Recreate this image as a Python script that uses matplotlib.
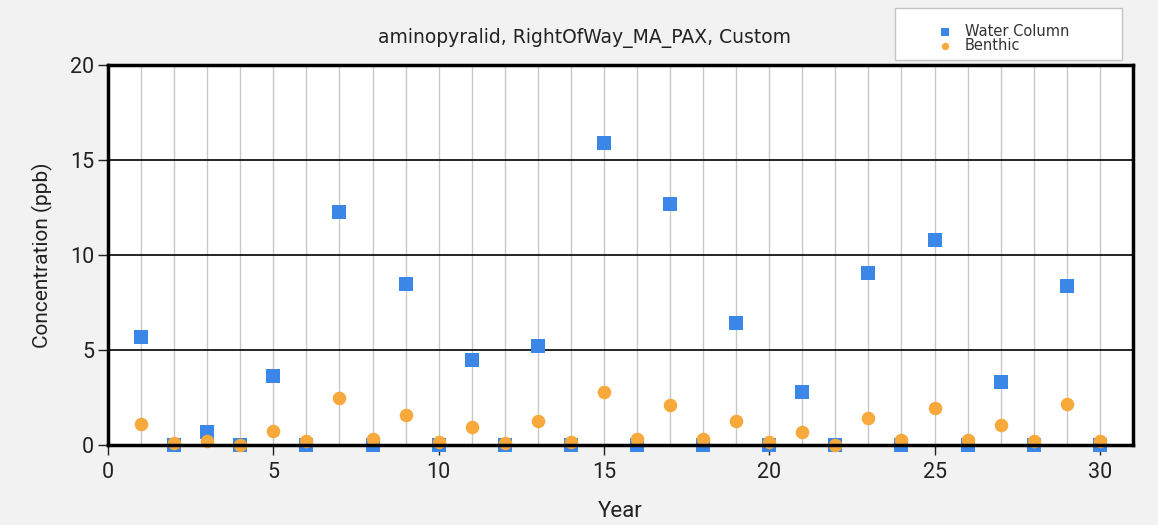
import numpy as np
import matplotlib
matplotlib.use("Agg")
import matplotlib.pyplot as plt
from matplotlib.patches import Rectangle

years = np.arange(1, 31)
water_column = [5.68, 0, 0.68, 0, 3.63, 0, 12.26, 0, 8.47, 0,
                4.47, 0, 5.2, 0, 15.9, 0, 12.68, 0, 6.42, 0,
                2.79, 0, 9.05, 0, 10.79, 0, 3.32, 0, 8.37, 0]
benthic = [1.1, 0.1, 0.2, 0.02, 0.74, 0.2, 2.47, 0.3, 1.58, 0.15,
           0.95, 0.1, 1.26, 0.15, 2.79, 0.35, 2.1, 0.3, 1.26, 0.15,
           0.68, 0.02, 1.42, 0.25, 1.95, 0.25, 1.05, 0.2, 2.16, 0.2]
title = "aminopyralid, RightOfWay_MA_PAX, Custom"

plt.rcParams['font.family'] = ['Roboto', 'DejaVu Sans']

bg = "#f2f2f2"
W, H = 1158, 525
fig = plt.figure(figsize=(11.58, 5.25), dpi=100, facecolor=bg)
ax = fig.add_axes([0.0933, 0.152, 0.885, 0.724])
ax.set_facecolor("white")

# light vertical grid at every year, dark horizontal grid
for x in years:
    ax.axvline(x, color="#c8c8c8", lw=1, zorder=0)
for y in [5, 10, 15]:
    ax.axhline(y, color="black", lw=1.2, zorder=0)

ax.scatter(years, water_column, marker="s", s=110, color="#3a87e8",
           label="Water Column", zorder=3, linewidths=0, clip_on=False)
ax.scatter(years, benthic, marker="o", s=95, color="#f7a93b",
           label="Benthic", zorder=4, linewidths=0, clip_on=False)

ax.set_xlim(0, 31)
ax.set_ylim(0, 20)
ax.set_xticks([0, 5, 10, 15, 20, 25, 30])
ax.set_yticks([0, 5, 10, 15, 20])
ax.tick_params(labelsize=15.5, length=7, width=1, colors="#222222", pad=3)
ax.tick_params(axis="x", pad=5)
for s in ax.spines.values():
    s.set_linewidth(2.5)
    s.set_zorder(5)

ax.set_ylabel("Concentration (ppb)", fontsize=15, labelpad=12, color="#222222")
ax.set_xlabel("Year", fontsize=16, labelpad=13, color="#222222")
fig.text(0.505, 0.927, title, ha="center", va="center", fontsize=13.5,
         family="DejaVu Sans", color="#222222")

# legend box
fig.patches.append(Rectangle((895 / W, 1 - 60 / H), 227 / W, 52 / H,
                             transform=fig.transFigure, facecolor="white",
                             edgecolor="#c4c4c4", lw=1, zorder=5))
leg = fig.legend(loc="upper left", bbox_to_anchor=(934 / W, 1 - 24 / H),
                 fontsize=10.5, frameon=False, borderpad=0,
                 handletextpad=0.6, labelspacing=-0.05, markerscale=0.55,
                 handlelength=1.5, borderaxespad=0)
leg.set_zorder(6)
for t in leg.get_texts():
    t.set_color("#333333")
    t.set_family("DejaVu Sans")

fig.savefig("out.png", dpi=100, facecolor=bg)
